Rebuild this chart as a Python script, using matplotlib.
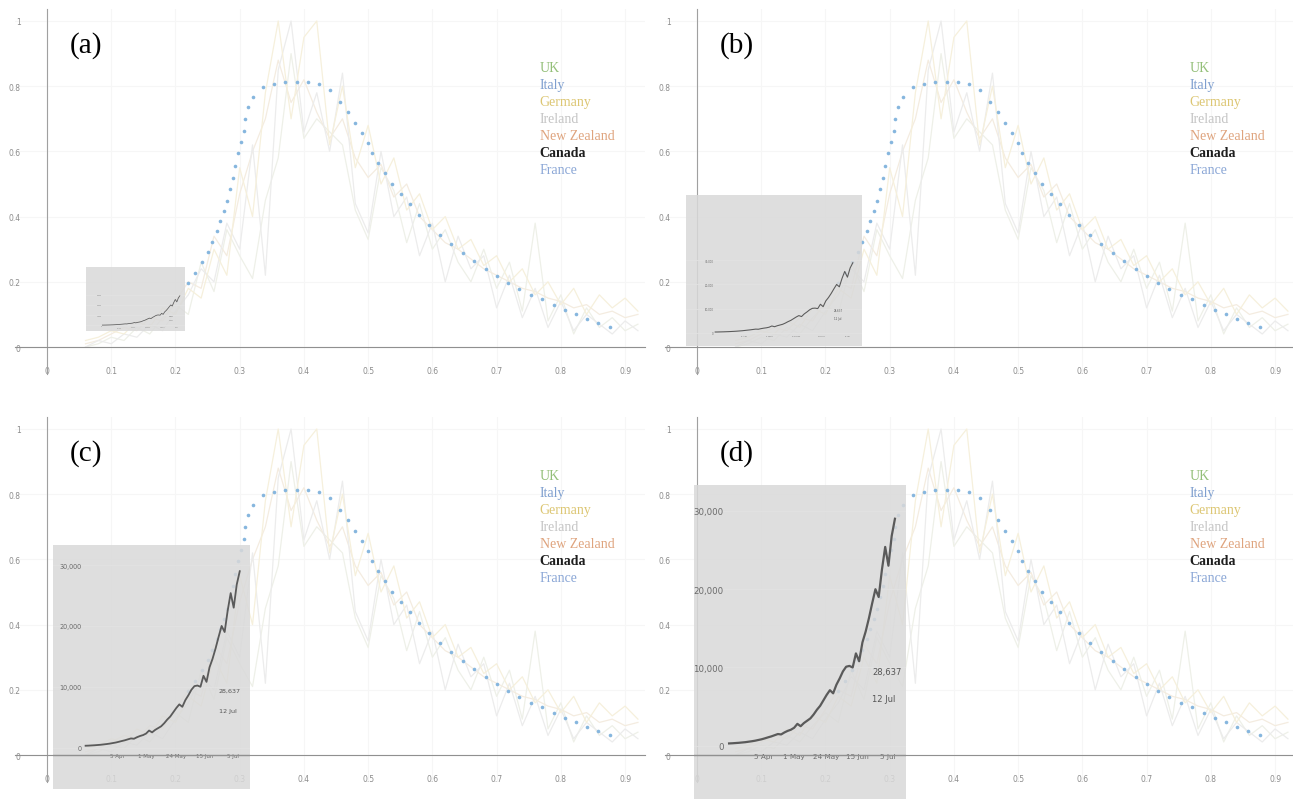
import numpy as np
import matplotlib.pyplot as plt

# background series (normalised), sampled every 0.02
xs = [0.06, 0.08, 0.10, 0.12, 0.14, 0.16, 0.18, 0.20, 0.22, 0.24, 0.26, 0.28, 0.30, 0.32,
      0.34, 0.36, 0.38, 0.40, 0.42, 0.44, 0.46, 0.48, 0.50, 0.52, 0.54, 0.56, 0.58, 0.60,
      0.62, 0.64, 0.66, 0.68, 0.70, 0.72, 0.74, 0.76, 0.78, 0.80, 0.82, 0.84, 0.86, 0.88,
      0.90, 0.92]
germany = [0.02, 0.03, 0.05, 0.04, 0.08, 0.06, 0.12, 0.10, 0.18, 0.15, 0.30, 0.22, 0.55, 0.40,
           0.78, 1.00, 0.70, 0.95, 1.00, 0.62, 0.80, 0.55, 0.68, 0.50, 0.58, 0.42, 0.47, 0.36,
           0.40, 0.30, 0.33, 0.25, 0.28, 0.20, 0.24, 0.16, 0.20, 0.13, 0.18, 0.10, 0.16, 0.12,
           0.15, 0.11]
ireland = [0.00, 0.02, 0.01, 0.04, 0.03, 0.07, 0.05, 0.11, 0.16, 0.24, 0.20, 0.38, 0.30, 0.62,
           0.22, 0.85, 1.00, 0.66, 0.78, 0.60, 0.84, 0.44, 0.35, 0.60, 0.40, 0.46, 0.28, 0.38,
           0.20, 0.34, 0.24, 0.28, 0.12, 0.22, 0.09, 0.18, 0.06, 0.14, 0.05, 0.10, 0.07, 0.04,
           0.08, 0.05]
newzealand = [0.01, 0.02, 0.04, 0.06, 0.05, 0.09, 0.08, 0.14, 0.20, 0.18, 0.34, 0.28, 0.47, 0.60,
              0.70, 0.88, 0.75, 0.82, 0.72, 0.64, 0.70, 0.58, 0.52, 0.56, 0.46, 0.50, 0.40, 0.36,
              0.32, 0.30, 0.27, 0.24, 0.22, 0.20, 0.18, 0.17, 0.15, 0.14, 0.12, 0.13, 0.10, 0.11,
              0.09, 0.10]
uk = [0.00, 0.01, 0.03, 0.02, 0.06, 0.04, 0.09, 0.13, 0.10, 0.26, 0.17, 0.36, 0.28, 0.21,
      0.45, 0.58, 0.90, 0.64, 0.70, 0.66, 0.62, 0.42, 0.33, 0.55, 0.48, 0.32, 0.44, 0.30,
      0.36, 0.26, 0.20, 0.30, 0.18, 0.26, 0.11, 0.38, 0.08, 0.16, 0.04, 0.12, 0.06, 0.09,
      0.05, 0.07]

# dotted France curve
dot_x = [0.220, 0.231, 0.241, 0.250, 0.257, 0.264, 0.270, 0.276, 0.280, 0.285, 0.289, 0.293,
         0.298, 0.302, 0.306, 0.309, 0.313, 0.321, 0.337, 0.354, 0.371, 0.389, 0.406, 0.423,
         0.440, 0.456, 0.469, 0.479, 0.490, 0.499, 0.506, 0.516, 0.527, 0.537, 0.551, 0.565,
         0.579, 0.594, 0.612, 0.629, 0.647, 0.665, 0.683, 0.701, 0.718, 0.735, 0.754, 0.771,
         0.789, 0.806, 0.824, 0.841, 0.858, 0.876]
dot_y = [0.197, 0.228, 0.260, 0.290, 0.322, 0.355, 0.386, 0.418, 0.448, 0.485, 0.518, 0.554,
         0.594, 0.628, 0.664, 0.699, 0.735, 0.766, 0.797, 0.808, 0.813, 0.813, 0.813, 0.807,
         0.787, 0.751, 0.720, 0.687, 0.656, 0.626, 0.595, 0.563, 0.533, 0.500, 0.469, 0.438,
         0.405, 0.373, 0.344, 0.316, 0.288, 0.263, 0.240, 0.217, 0.197, 0.177, 0.161, 0.146,
         0.130, 0.115, 0.101, 0.087, 0.074, 0.062]

# inset: cumulative cases
cases = [300, 320, 350, 380, 420, 460, 520, 580, 650, 740, 830, 950, 1080, 1200, 1350, 1500,
         1450, 1700, 1900, 2050, 2300, 2800, 2500, 2900, 3200, 3500, 4000, 4600, 5100, 5800,
         6500, 7100, 6700, 7800, 8600, 9500, 10100, 10200, 10000, 11800, 10800, 13200, 14600,
         16300, 18200, 20000, 19000, 22500, 25400, 23000, 26800, 29000]
date_pos = [10.6, 20.0, 30.0, 39.5, 48.9]
date_labels = ['5 Apr', '1 May', '24 May', '15 Jun', '5 Jul']
case_ticks = [0, 10000, 20000, 30000]
case_labels = ['0', '10,000', '20,000', '30,000']

countries = ['UK', 'Italy', 'Germany', 'Ireland', 'New Zealand', 'Canada', 'France']
country_colors = ['#93bf78', '#7f9fcf', '#dcc673', '#c4c4c4', '#dfa47e', '#1e1e1e', '#8ba7d6']

xticks = [0, 0.1, 0.2, 0.3, 0.4, 0.5, 0.6, 0.7, 0.8, 0.9]
yticks = [0, 0.2, 0.4, 0.6, 0.8, 1]
ylabels = ['0', '0.2', '0.4', '0.6', '0.8', '1']

fig = plt.figure(figsize=(12.93, 8.03), dpi=100)


def panel(left, bottom, label, box, ylim_in, s):
    ax = fig.add_axes([left, bottom, 630 / 1293, 365 / 803])
    ax.set_xlim(-0.0498, 0.931)
    ax.set_ylim(-0.0828, 1.0368)
    ax.spines[['top', 'right']].set_visible(False)
    ax.spines['left'].set_position(('data', 0))
    ax.spines['bottom'].set_position(('data', 0))
    ax.spines['left'].set_color('#a0a0a0')
    ax.spines['bottom'].set_color('#909090')
    ax.set_xticks(xticks)
    ax.set_xticklabels([str(t) for t in xticks])
    ax.set_yticks(yticks)
    ax.set_yticklabels(ylabels)
    ax.tick_params(length=0, labelsize=5.5, labelcolor='#8c8c8c')
    ax.tick_params(axis='x', pad=14)
    ax.tick_params(axis='y', pad=19)
    ax.grid(color='#f6f6f6', lw=0.8)
    ax.set_axisbelow(True)

    ax.plot(xs, uk, color='#eef0e8', lw=0.9)
    ax.plot(xs, newzealand, color='#f4ece0', lw=0.9)
    ax.plot(xs, ireland, color='#ececec', lw=0.9)
    ax.plot(xs, germany, color='#f6f0dc', lw=0.9)
    ax.plot(dot_x, dot_y, 'o', color='#86b6de', ms=2.6, mec='none')

    for i, (name, c) in enumerate(zip(countries, country_colors)):
        ax.text(0.833, 0.841 - i * 0.0466, name, transform=ax.transAxes, color=c,
                fontsize=10, family='Liberation Serif', va='center',
                weight='bold' if name == 'Canada' else 'normal')
    ax.text(0.087, 0.904, label, transform=ax.transAxes, fontsize=21,
            family='Liberation Serif', va='center')

    ins = ax.inset_axes(box, transform=ax.transData)
    ins.set_facecolor((0.85, 0.85, 0.85, 0.85))
    for sp in ins.spines.values():
        sp.set_visible(False)
    ins.set_xlim(-10.8, 54.4)
    ins.set_ylim(ylim_in)
    ins.plot(range(len(cases)), cases, color='#5a5a5a', lw=1.2 * s + 0.4)
    ins.spines['bottom'].set_position(('data', 0))
    ins.spines['left'].set_position(('data', 0))
    ins.set_xticks(date_pos)
    ins.set_xticklabels(date_labels)
    ins.set_yticks(case_ticks)
    ins.set_yticklabels(case_labels)
    ins.tick_params(length=0, labelsize=6.2 * s, labelcolor='#6a6a6a')
    ins.tick_params(axis='x', labelsize=5.2 * s, pad=5 * s)
    ins.tick_params(axis='y', pad=4 * s)
    ins.grid(axis='y', color='#e2e2e2', lw=0.6)
    ins.text(44, 9500, '28,637', fontsize=6 * s, color='#555555', va='center')
    ins.text(44, 6100, '12 Jul', fontsize=6 * s, color='#555555', va='center')
    ins.plot([-0.06, 0.94], [0, 0], color='#909090', lw=1.0, transform=ax.transData)
    return ax


panel(15 / 1293, 1 - 375 / 803, '(a)', [0.0607, 0.049, 0.1542, 0.196], (-5500, 57000), 0.13)
panel(665 / 1293, 1 - 375 / 803, '(b)', [-0.0171, 0.003, 0.274, 0.463], (-5500, 57000), 0.31)
panel(15 / 1293, 1 - 783 / 803, '(c)', [0.0093, -0.104, 0.3068, 0.748], (-6800, 33300), 0.76)
panel(665 / 1293, 1 - 783 / 803, '(d)', [-0.0047, -0.135, 0.3301, 0.963], (-6800, 33300), 1.0)

fig.savefig('out.png', dpi=100)
